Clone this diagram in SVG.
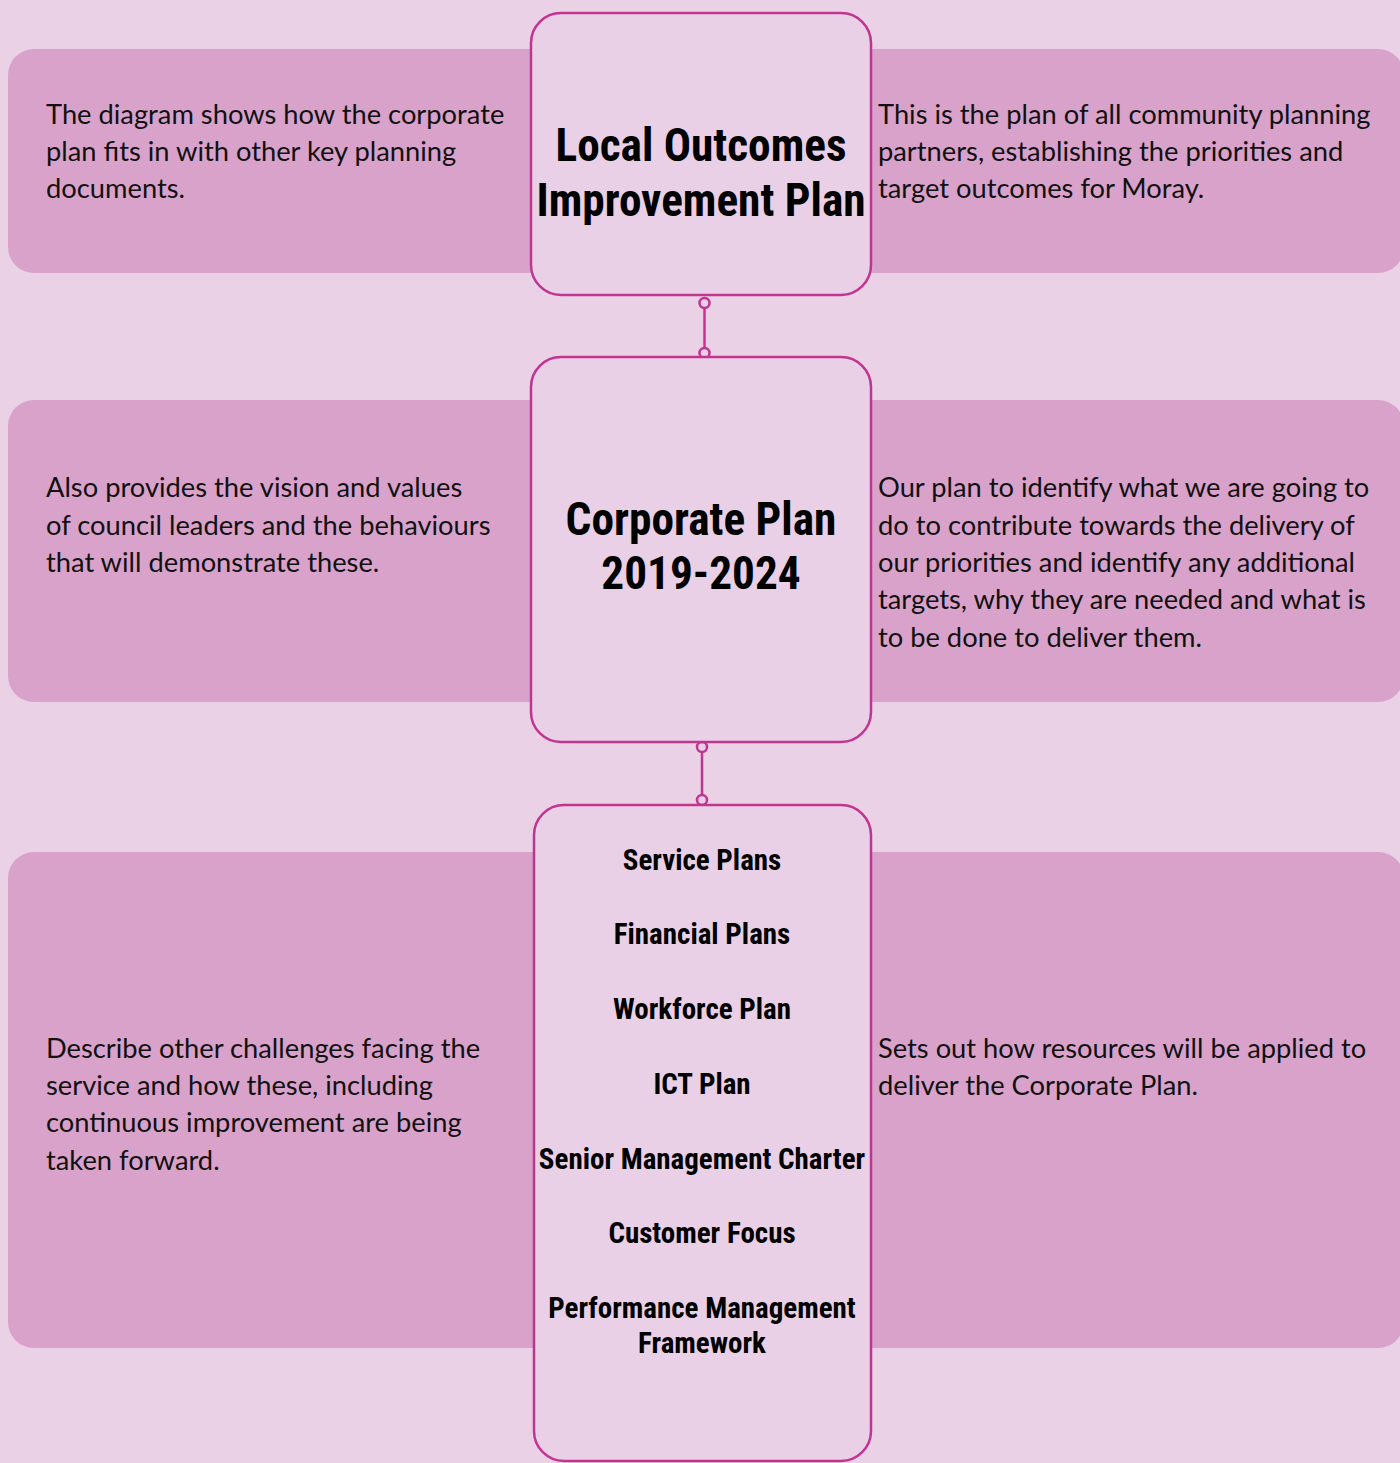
<svg xmlns="http://www.w3.org/2000/svg" width="1400" height="1463" viewBox="0 0 1400 1463">
<style>
.panel{fill:#d9a2ca}
.node{fill:#e9d0e6;stroke:#c13490;stroke-width:2.5}
.desc{font-family:Lato,"Open Sans",sans-serif;font-size:27.3px;fill:#111}
.title{font-family:"Liberation Sans Narrow","Roboto Condensed",Roboto,sans-serif;font-stretch:condensed;font-weight:bold;font-size:45.3px;fill:#000;text-anchor:middle}
.item{font-family:"Liberation Sans Narrow","Roboto Condensed",Roboto,sans-serif;font-stretch:condensed;font-weight:bold;font-size:29px;fill:#000;text-anchor:middle}
.conn line{stroke:#c13490;stroke-width:2.5}
.conn circle{fill:#e9d0e6;stroke:#c13490;stroke-width:2.5}
</style>
<rect width="1400" height="1463" fill="#ead1e6"/>
<g id="panels">
<rect class="panel" x="8" y="49" width="1396" height="224" rx="26"/>
<rect class="panel" x="8" y="400" width="1396" height="302" rx="26"/>
<rect class="panel" x="8" y="852" width="1396" height="496" rx="26"/>
</g>
<g id="desc-left-1"><text class="desc"><tspan x="46" y="124">The diagram shows how the corporate</tspan><tspan x="46" y="161">plan fits in with other key planning</tspan><tspan x="46" y="198">documents.</tspan></text></g>
<g id="desc-right-1"><text class="desc"><tspan x="878" y="124">This is the plan of all community planning</tspan><tspan x="878" y="161">partners, establishing the priorities and</tspan><tspan x="878" y="198">target outcomes for Moray.</tspan></text></g>
<g id="desc-left-2"><text class="desc"><tspan x="46" y="497">Also provides the vision and values</tspan><tspan x="46" y="535">of council leaders and the behaviours</tspan><tspan x="46" y="572">that will demonstrate these.</tspan></text></g>
<g id="desc-right-2"><text class="desc"><tspan x="878" y="497">Our plan to identify what we are going to</tspan><tspan x="878" y="535">do to contribute towards the delivery of</tspan><tspan x="878" y="572">our priorities and identify any additional</tspan><tspan x="878" y="609">targets, why they are needed and what is</tspan><tspan x="878" y="647">to be done to deliver them.</tspan></text></g>
<g id="desc-left-3"><text class="desc"><tspan x="46" y="1058">Describe other challenges facing the</tspan><tspan x="46" y="1095">service and how these, including</tspan><tspan x="46" y="1132">continuous improvement are being</tspan><tspan x="46" y="1170">taken forward.</tspan></text></g>
<g id="desc-right-3"><text class="desc"><tspan x="878" y="1058">Sets out how resources will be applied to</tspan><tspan x="878" y="1095">deliver the Corporate Plan.</tspan></text></g>
<g id="connectors" class="conn">
<line x1="704.5" y1="308" x2="704.5" y2="348"/>
<circle cx="704.5" cy="303" r="5"/>
<circle cx="704.5" cy="353" r="5"/>
<line x1="702" y1="752" x2="702" y2="795"/>
<circle cx="702" cy="747" r="5"/>
<circle cx="702" cy="800" r="5"/>
</g>
<g id="node-loip">
<rect class="node" x="531" y="13" width="340" height="282" rx="30"/>
<text class="title"><tspan x="701" y="161">Local Outcomes</tspan><tspan x="701" y="216">Improvement Plan</tspan></text>
</g>
<g id="node-corporate">
<rect class="node" x="531" y="357" width="340" height="385" rx="30"/>
<text class="title"><tspan x="701" y="535">Corporate Plan</tspan><tspan x="701" y="589">2019-2024</tspan></text>
</g>
<g id="node-plans">
<rect class="node" x="534" y="805" width="337" height="656" rx="30"/>
<text class="item"><tspan x="702" y="870">Service Plans</tspan><tspan x="702" y="944">Financial Plans</tspan><tspan x="702" y="1019">Workforce Plan</tspan><tspan x="702" y="1094">ICT Plan</tspan><tspan x="702" y="1169">Senior Management Charter</tspan><tspan x="702" y="1243">Customer Focus</tspan><tspan x="702" y="1318">Performance Management</tspan><tspan x="702" y="1353">Framework</tspan></text>
</g>
</svg>
